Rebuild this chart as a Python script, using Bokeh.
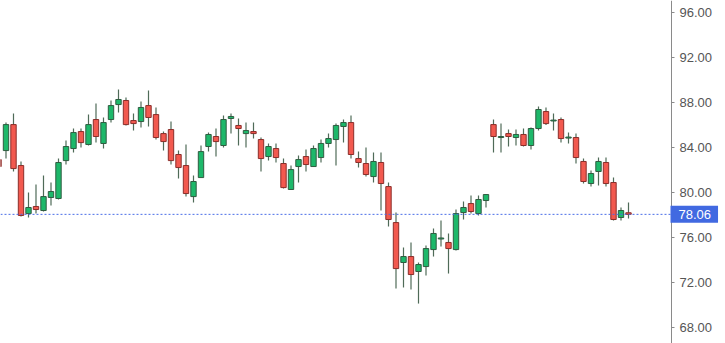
from bokeh.plotting import figure
from bokeh.models import Range1d, FixedTicker, NumeralTickFormatter, Label, ColumnDataSource
from bokeh.embed import file_html
from bokeh.resources import INLINE

# OHLC values (index -1 is the partially visible first candle)
idx = list(range(-1, 84))
opens = [82.93, 83.73, 86.04, 82.40, 78.13, 78.76, 78.40, 79.56, 79.47, 82.84, 83.91,
         85.42, 84.27, 86.49, 84.36, 86.49, 87.82, 88.18, 86.40, 86.31, 87.73,
         86.93, 85.24, 85.60, 83.38, 82.40, 79.64, 81.33, 84.09, 84.98, 84.18,
         86.58, 85.96, 85.24, 85.42, 84.71, 83.20, 83.91, 82.58, 80.27, 82.31,
         83.20, 82.31, 83.11, 84.36, 84.71, 85.87, 86.22, 83.02, 82.58, 81.42,
         82.67, 80.53, 77.33, 73.78, 74.31, 72.98, 73.42, 74.93, 75.87, 75.56,
         74.93, 78.22, 79.02, 78.13, 79.29, 86.04, 84.89, 85.24, 84.89, 85.16,
         84.18, 85.69, 87.20, 86.36, 86.49, 84.84, 84.89, 82.76, 80.80, 81.87,
         82.67, 80.89, 77.78, 78.20]
highs = [83.29, 86.22, 87.02, 82.76, 80.00, 80.71, 81.51, 80.89, 83.02, 84.62, 85.69,
         85.69, 86.93, 87.91, 86.67, 88.18, 89.16, 88.44, 87.02, 88.09, 89.07,
         87.56, 85.42, 86.31, 83.73, 84.27, 81.51, 84.18, 85.33, 85.69, 86.84,
         87.02, 86.58, 86.22, 86.22, 84.89, 84.36, 84.36, 83.02, 82.40, 83.29,
         83.82, 84.18, 84.71, 85.24, 86.13, 86.49, 86.84, 83.64, 84.00, 83.56,
         83.56, 80.89, 78.22, 75.11, 75.56, 73.78, 75.29, 76.80, 77.51, 76.36,
         78.49, 79.20, 79.73, 79.73, 79.85, 86.49, 86.13, 85.60, 85.60, 85.69,
         85.78, 87.64, 87.56, 87.02, 86.67, 85.33, 85.24, 83.02, 81.96, 83.11,
         83.11, 81.33, 78.67, 79.11]
lows = [81.96, 83.02, 81.87, 77.87, 77.78, 78.13, 78.31, 78.84, 79.38, 82.49, 83.56,
        84.00, 84.18, 84.44, 83.91, 86.22, 87.11, 85.96, 85.51, 85.78, 85.87,
        84.71, 83.73, 82.49, 81.24, 79.64, 79.11, 81.33, 83.64, 83.20, 84.00,
        85.24, 84.18, 84.00, 84.80, 81.87, 82.84, 82.67, 80.36, 80.27, 80.89,
        81.87, 82.31, 82.67, 84.00, 82.40, 84.44, 83.02, 82.22, 81.42, 80.89,
        78.40, 76.98, 71.47, 71.56, 71.38, 70.13, 72.62, 74.31, 75.20, 72.80,
        74.84, 77.60, 78.13, 77.96, 78.67, 83.56, 83.56, 84.09, 84.18, 84.10,
        83.82, 85.51, 86.00, 85.51, 84.44, 84.36, 82.58, 80.80, 80.53, 80.62,
        80.53, 77.51, 77.51, 77.69]
closes = [82.31, 86.04, 82.13, 77.96, 78.67, 78.49, 79.64, 80.09, 82.67, 84.09, 85.33,
          84.44, 86.04, 84.98, 86.22, 87.73, 88.27, 86.04, 86.13, 87.56, 86.67,
          84.89, 84.53, 82.84, 82.22, 79.91, 80.98, 83.64, 85.16, 84.53, 86.49,
          86.76, 85.69, 85.51, 85.24, 83.02, 84.09, 83.11, 80.44, 82.04, 82.93,
          82.49, 83.91, 84.36, 84.80, 85.96, 86.22, 83.38, 82.67, 81.60, 82.76,
          80.80, 77.60, 73.24, 74.31, 72.71, 73.60, 75.02, 76.36, 75.96, 75.02,
          78.13, 78.67, 78.31, 79.38, 79.82, 84.98, 84.98, 84.98, 85.16, 84.18,
          85.69, 87.38, 86.13, 86.44, 84.80, 84.93, 83.11, 80.98, 81.69, 82.76,
          80.80, 77.60, 78.40, 78.06]
y_ticks = [68, 72, 76, 80, 84, 88, 92, 96]
last_price = 78.06

x_start, x_axis_pos, x_end = -0.733, 88.733, 95.933

up = [c >= o for o, c in zip(opens, closes)]
src_up = ColumnDataSource(dict(
    x=[i for i, u in zip(idx, up) if u],
    top=[c for c, u in zip(closes, up) if u],
    bottom=[o for o, u in zip(opens, up) if u]))
src_dn = ColumnDataSource(dict(
    x=[i for i, u in zip(idx, up) if not u],
    top=[o for o, u in zip(opens, up) if not u],
    bottom=[c for c, u in zip(closes, up) if not u]))
src_w = ColumnDataSource(dict(x=idx, h=highs, l=lows))

p = figure(width=725, height=343, output_backend="svg", toolbar_location=None,
           x_range=Range1d(x_start, x_end), y_range=Range1d(66.58, 97.07),
           x_axis_location=None, y_axis_location="right",
           min_border_left=0, min_border_right=0, min_border_top=0, min_border_bottom=0)
p.outline_line_color = None
p.grid.visible = False
p.background_fill_color = "white"
p.border_fill_color = "white"

p.segment(x0="x", y0="l", x1="x", y1="h", source=src_w, line_color="#4f6b58", line_width=1.2)
p.vbar(x="x", top="top", bottom="bottom", width=0.72, source=src_up,
       fill_color="#1db86a", line_color="#2f5c40", line_width=1)
p.vbar(x="x", top="top", bottom="bottom", width=0.72, source=src_dn,
       fill_color="#f2594f", line_color="#8a2e2a", line_width=1)

# dotted last-price line up to the axis
p.segment(x0=[x_start], y0=[last_price], x1=[x_axis_pos], y1=[last_price],
          line_color="#4a6ee8", line_dash="2 2", line_width=1)

ax = p.yaxis[0]
ax.fixed_location = x_axis_pos
ax.ticker = FixedTicker(ticks=y_ticks)
ax.formatter = NumeralTickFormatter(format="0.00")
ax.axis_line_color = "#8a8a8a"
ax.major_tick_line_color = "#8a8a8a"
ax.major_tick_out = 3
ax.major_tick_in = 0
ax.minor_tick_line_color = None
ax.major_label_standoff = 5
ax.major_label_text_font = "Liberation Sans"
ax.major_label_text_font_size = "13px"
ax.major_label_text_color = "#555555"

p.add_layout(Label(x=x_axis_pos, y=last_price, text="%.2f" % last_price, x_offset=-1,
                   text_align="left", text_baseline="middle",
                   text_font="Liberation Sans", text_font_size="13px", text_color="white",
                   background_fill_color="#4169e1",
                   padding=dict(left=8, right=7, top=4, bottom=4)))

open("out.html", "w").write(file_html(p, INLINE))
